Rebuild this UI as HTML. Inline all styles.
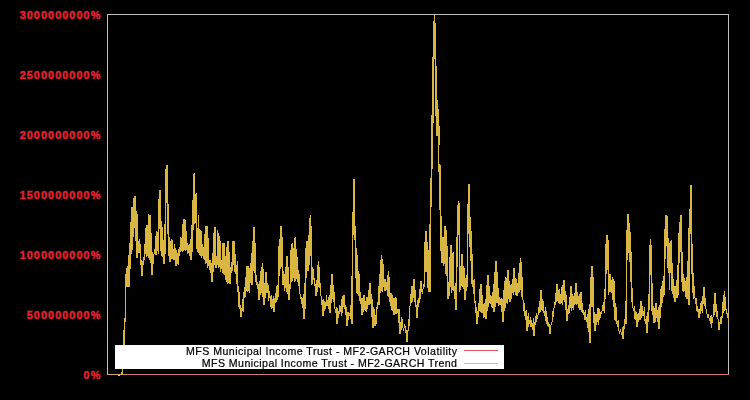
<!DOCTYPE html>
<html><head><meta charset="utf-8"><title>MF2-GARCH</title>
<style>
html,body{margin:0;padding:0;background:#000;}
body{width:750px;height:400px;overflow:hidden;position:relative;font-family:"Liberation Sans",sans-serif;}
svg{position:absolute;left:0;top:0;display:block;}
.yl text{font-family:"Liberation Sans",sans-serif;font-weight:bold;font-size:10.8px;letter-spacing:1.1px;fill:#e8212f;stroke:#e8212f;stroke-width:0.45px;}
.lg text{font-family:"Liberation Sans",sans-serif;font-size:10.6px;letter-spacing:0.47px;fill:#000;stroke:#000;stroke-width:0.22px;}
</style></head><body>
<svg width="750" height="400" viewBox="0 0 750 400">
<rect x="0" y="0" width="750" height="400" fill="#000"/>
<g shape-rendering="crispEdges">
<rect x="107" y="14" width="622" height="1" fill="#bebebe"/>
<rect x="107" y="14" width="1" height="361" fill="#bebebe"/>
<rect x="728" y="14" width="1" height="361" fill="#bebebe"/>
<rect x="107" y="374" width="15" height="1" fill="#d0a870"/>
<rect x="122" y="374" width="607" height="1" fill="#d07880"/>
<path d="M121 372h1v3h-1zM122 366h1v9h-1zM123 330h1v38h-1zM124 318h1v30h-1zM125 274h1v48h-1zM126 268h1v19h-1zM127 266h1v21h-1zM128 255h1v32h-1zM129 243h1v44h-1zM130 222h1v47h-1zM131 207h1v47h-1zM132 207h1v43h-1zM133 198h1v39h-1zM134 196h1v32h-1zM135 196h1v45h-1zM136 211h1v47h-1zM137 214h1v44h-1zM138 241h1v12h-1zM139 239h1v14h-1zM140 244h1v21h-1zM141 260h1v16h-1zM142 261h1v15h-1zM143 257h1v8h-1zM144 244h1v16h-1zM145 228h1v26h-1zM146 225h1v32h-1zM147 225h1v31h-1zM148 214h1v44h-1zM149 215h1v45h-1zM150 215h1v48h-1zM151 233h1v42h-1zM152 252h1v23h-1zM153 254h1v10h-1zM154 249h1v5h-1zM155 236h1v19h-1zM156 231h1v24h-1zM157 232h1v19h-1zM158 199h1v55h-1zM159 190h1v39h-1zM160 190h1v61h-1zM161 221h1v35h-1zM162 227h1v30h-1zM163 240h1v24h-1zM164 224h1v40h-1zM165 169h1v85h-1zM166 165h1v38h-1zM167 165h1v69h-1zM168 204h1v52h-1zM169 237h1v25h-1zM170 241h1v21h-1zM171 239h1v20h-1zM172 240h1v19h-1zM173 249h1v11h-1zM174 244h1v16h-1zM175 248h1v18h-1zM176 250h1v16h-1zM177 253h1v11h-1zM178 249h1v16h-1zM179 247h1v9h-1zM180 237h1v15h-1zM181 238h1v13h-1zM182 224h1v28h-1zM183 219h1v32h-1zM184 219h1v31h-1zM185 220h1v31h-1zM186 231h1v19h-1zM187 243h1v11h-1zM188 245h1v8h-1zM189 244h1v12h-1zM190 239h1v21h-1zM191 225h1v35h-1zM192 200h1v52h-1zM193 174h1v56h-1zM194 173h1v51h-1zM195 194h1v29h-1zM196 193h1v56h-1zM197 228h1v24h-1zM198 215h1v38h-1zM199 229h1v26h-1zM200 230h1v26h-1zM201 231h1v27h-1zM202 244h1v12h-1zM203 247h1v12h-1zM204 234h1v26h-1zM205 226h1v38h-1zM206 226h1v37h-1zM207 226h1v42h-1zM208 238h1v28h-1zM209 260h1v10h-1zM210 260h1v13h-1zM211 263h1v19h-1zM212 253h1v29h-1zM213 233h1v39h-1zM214 227h1v38h-1zM215 227h1v41h-1zM216 256h1v12h-1zM217 230h1v35h-1zM218 233h1v35h-1zM219 236h1v31h-1zM220 241h1v31h-1zM221 260h1v9h-1zM222 243h1v30h-1zM223 243h1v31h-1zM224 243h1v32h-1zM225 256h1v24h-1zM226 247h1v35h-1zM227 241h1v43h-1zM228 241h1v42h-1zM229 252h1v32h-1zM230 267h1v17h-1zM231 262h1v11h-1zM232 241h1v30h-1zM233 241h1v24h-1zM234 241h1v31h-1zM235 254h1v20h-1zM236 265h1v19h-1zM237 261h1v31h-1zM238 286h1v21h-1zM239 292h1v17h-1zM240 305h1v12h-1zM241 308h1v9h-1zM242 299h1v12h-1zM243 292h1v20h-1zM244 287h1v11h-1zM245 277h1v20h-1zM246 266h1v25h-1zM247 266h1v26h-1zM248 266h1v25h-1zM249 268h1v25h-1zM250 263h1v20h-1zM251 253h1v32h-1zM252 241h1v44h-1zM253 227h1v44h-1zM254 227h1v46h-1zM255 243h1v39h-1zM256 275h1v10h-1zM257 282h1v7h-1zM258 284h1v16h-1zM259 281h1v19h-1zM260 271h1v24h-1zM261 267h1v26h-1zM262 263h1v34h-1zM263 269h1v36h-1zM264 283h1v22h-1zM265 272h1v26h-1zM266 272h1v21h-1zM267 283h1v10h-1zM268 285h1v16h-1zM269 291h1v7h-1zM270 296h1v11h-1zM271 295h1v14h-1zM272 299h1v9h-1zM273 296h1v16h-1zM274 298h1v14h-1zM275 293h1v10h-1zM276 286h1v16h-1zM277 285h1v15h-1zM278 246h1v51h-1zM279 239h1v37h-1zM280 226h1v43h-1zM281 226h1v41h-1zM282 237h1v48h-1zM283 271h1v14h-1zM284 274h1v17h-1zM285 267h1v21h-1zM286 256h1v36h-1zM287 256h1v38h-1zM288 267h1v33h-1zM289 284h1v16h-1zM290 250h1v39h-1zM291 244h1v38h-1zM292 243h1v38h-1zM293 248h1v30h-1zM294 238h1v44h-1zM295 237h1v44h-1zM296 249h1v30h-1zM297 257h1v25h-1zM298 270h1v16h-1zM299 274h1v20h-1zM300 294h1v5h-1zM301 297h1v7h-1zM302 298h1v10h-1zM303 294h1v25h-1zM304 283h1v36h-1zM305 248h1v61h-1zM306 241h1v37h-1zM307 241h1v30h-1zM308 235h1v36h-1zM309 218h1v47h-1zM310 215h1v41h-1zM311 226h1v59h-1zM312 267h1v17h-1zM313 269h1v11h-1zM314 278h1v8h-1zM315 284h1v12h-1zM316 280h1v16h-1zM317 265h1v27h-1zM318 261h1v26h-1zM319 267h1v21h-1zM320 283h1v13h-1zM321 296h1v9h-1zM322 300h1v16h-1zM323 299h1v17h-1zM324 301h1v10h-1zM325 302h1v7h-1zM326 295h1v11h-1zM327 300h1v6h-1zM328 297h1v12h-1zM329 295h1v18h-1zM330 285h1v28h-1zM331 274h1v29h-1zM332 274h1v25h-1zM333 285h1v17h-1zM334 292h1v17h-1zM335 309h1v4h-1zM336 307h1v17h-1zM337 308h1v16h-1zM338 311h1v7h-1zM339 305h1v9h-1zM340 306h1v6h-1zM341 299h1v17h-1zM342 296h1v17h-1zM343 295h1v12h-1zM344 295h1v14h-1zM345 305h1v10h-1zM346 307h1v19h-1zM347 312h1v14h-1zM348 312h1v8h-1zM349 313h1v3h-1zM350 305h1v14h-1zM351 276h1v48h-1zM352 212h1v112h-1zM353 179h1v56h-1zM354 179h1v61h-1zM355 226h1v52h-1zM356 248h1v45h-1zM357 255h1v39h-1zM358 271h1v25h-1zM359 274h1v27h-1zM360 292h1v12h-1zM361 298h1v17h-1zM362 298h1v17h-1zM363 295h1v17h-1zM364 295h1v15h-1zM365 301h1v10h-1zM366 297h1v15h-1zM367 297h1v12h-1zM368 290h1v15h-1zM369 283h1v22h-1zM370 283h1v21h-1zM371 294h1v23h-1zM372 299h1v29h-1zM373 307h1v21h-1zM374 309h1v17h-1zM375 315h1v11h-1zM376 307h1v17h-1zM377 302h1v7h-1zM378 286h1v19h-1zM379 274h1v31h-1zM380 260h1v33h-1zM381 255h1v36h-1zM382 259h1v33h-1zM383 264h1v23h-1zM384 279h1v12h-1zM385 279h1v12h-1zM386 282h1v8h-1zM387 275h1v21h-1zM388 271h1v26h-1zM389 277h1v25h-1zM390 293h1v13h-1zM391 293h1v17h-1zM392 295h1v16h-1zM393 298h1v17h-1zM394 298h1v17h-1zM395 297h1v17h-1zM396 298h1v16h-1zM397 309h1v4h-1zM398 309h1v14h-1zM399 309h1v25h-1zM400 322h1v12h-1zM401 317h1v13h-1zM402 319h1v9h-1zM403 328h1v3h-1zM404 324h1v4h-1zM405 326h1v7h-1zM406 330h1v12h-1zM407 330h1v12h-1zM408 319h1v12h-1zM409 306h1v20h-1zM410 294h1v12h-1zM411 286h1v17h-1zM412 286h1v16h-1zM413 279h1v19h-1zM414 279h1v23h-1zM415 290h1v17h-1zM416 305h1v13h-1zM417 300h1v18h-1zM418 298h1v9h-1zM419 289h1v14h-1zM420 281h1v18h-1zM421 281h1v11h-1zM422 289h1v5h-1zM423 284h1v5h-1zM424 242h1v45h-1zM425 231h1v41h-1zM426 231h1v41h-1zM427 242h1v46h-1zM428 250h1v42h-1zM429 224h1v68h-1zM430 178h1v114h-1zM431 115h1v92h-1zM432 57h1v112h-1zM433 21h1v102h-1zM434 15h1v44h-1zM435 23h1v93h-1zM436 66h1v70h-1zM437 100h1v36h-1zM438 109h1v63h-1zM439 126h1v19h-1zM439 164h1v46h-1zM440 165h1v86h-1zM441 216h1v47h-1zM442 237h1v26h-1zM443 237h1v29h-1zM444 226h1v38h-1zM445 226h1v48h-1zM446 230h1v46h-1zM447 246h1v53h-1zM448 282h1v17h-1zM449 257h1v39h-1zM450 245h1v42h-1zM451 245h1v48h-1zM452 253h1v37h-1zM453 252h1v39h-1zM454 286h1v13h-1zM455 283h1v27h-1zM456 237h1v73h-1zM457 205h1v62h-1zM458 201h1v34h-1zM459 203h1v89h-1zM460 266h1v24h-1zM461 254h1v32h-1zM462 254h1v33h-1zM463 266h1v23h-1zM464 268h1v32h-1zM465 278h1v22h-1zM466 275h1v16h-1zM467 204h1v83h-1zM468 184h1v50h-1zM469 184h1v63h-1zM470 217h1v44h-1zM471 231h1v53h-1zM472 254h1v33h-1zM473 280h1v14h-1zM474 279h1v24h-1zM475 301h1v12h-1zM476 307h1v17h-1zM477 311h1v13h-1zM478 303h1v14h-1zM479 289h1v22h-1zM480 284h1v28h-1zM481 284h1v29h-1zM482 295h1v18h-1zM483 304h1v14h-1zM484 303h1v14h-1zM485 299h1v20h-1zM486 285h1v34h-1zM487 275h1v36h-1zM488 275h1v32h-1zM489 286h1v17h-1zM490 295h1v9h-1zM491 296h1v11h-1zM492 292h1v16h-1zM493 284h1v28h-1zM494 272h1v40h-1zM495 261h1v46h-1zM496 261h1v42h-1zM497 272h1v31h-1zM498 288h1v18h-1zM499 297h1v8h-1zM500 299h1v6h-1zM501 298h1v14h-1zM502 299h1v23h-1zM503 290h1v32h-1zM504 281h1v30h-1zM505 277h1v31h-1zM506 278h1v25h-1zM507 270h1v34h-1zM508 270h1v29h-1zM509 281h1v21h-1zM510 285h1v17h-1zM511 284h1v15h-1zM512 279h1v14h-1zM513 268h1v27h-1zM514 268h1v24h-1zM515 278h1v17h-1zM516 279h1v17h-1zM517 283h1v13h-1zM518 273h1v20h-1zM519 263h1v29h-1zM520 258h1v32h-1zM521 262h1v35h-1zM522 277h1v23h-1zM523 300h1v11h-1zM524 303h1v13h-1zM525 311h1v9h-1zM526 310h1v21h-1zM527 316h1v15h-1zM528 313h1v14h-1zM529 320h1v4h-1zM530 317h1v10h-1zM531 320h1v7h-1zM532 323h1v7h-1zM533 318h1v18h-1zM534 322h1v14h-1zM535 316h1v9h-1zM536 313h1v9h-1zM537 315h1v4h-1zM538 307h1v8h-1zM539 301h1v12h-1zM540 290h1v22h-1zM541 290h1v20h-1zM542 299h1v12h-1zM543 301h1v12h-1zM544 311h1v5h-1zM545 307h1v14h-1zM546 311h1v13h-1zM547 317h1v9h-1zM548 322h1v5h-1zM549 324h1v10h-1zM550 325h1v9h-1zM551 322h1v3h-1zM552 311h1v11h-1zM553 308h1v9h-1zM554 302h1v6h-1zM555 293h1v12h-1zM556 284h1v18h-1zM557 284h1v17h-1zM558 290h1v13h-1zM559 289h1v15h-1zM560 294h1v10h-1zM561 287h1v16h-1zM562 285h1v20h-1zM563 280h1v20h-1zM564 280h1v22h-1zM565 291h1v19h-1zM566 295h1v26h-1zM567 309h1v12h-1zM568 305h1v9h-1zM569 297h1v16h-1zM570 286h1v22h-1zM571 286h1v25h-1zM572 294h1v14h-1zM573 296h1v14h-1zM574 293h1v12h-1zM575 283h1v21h-1zM576 283h1v22h-1zM577 292h1v12h-1zM578 296h1v12h-1zM579 294h1v16h-1zM580 292h1v18h-1zM581 292h1v20h-1zM582 303h1v10h-1zM583 310h1v5h-1zM584 312h1v8h-1zM585 310h1v10h-1zM586 317h1v5h-1zM587 314h1v14h-1zM588 309h1v23h-1zM589 304h1v39h-1zM590 277h1v66h-1zM591 266h1v41h-1zM592 266h1v41h-1zM593 277h1v46h-1zM594 312h1v19h-1zM595 314h1v17h-1zM596 314h1v11h-1zM597 308h1v14h-1zM598 308h1v17h-1zM599 309h1v11h-1zM600 312h1v6h-1zM601 311h1v3h-1zM602 305h1v6h-1zM603 302h1v9h-1zM604 289h1v24h-1zM605 244h1v55h-1zM606 235h1v39h-1zM607 235h1v35h-1zM608 240h1v55h-1zM609 274h1v18h-1zM610 274h1v18h-1zM611 280h1v13h-1zM612 277h1v23h-1zM613 279h1v28h-1zM614 281h1v39h-1zM615 303h1v18h-1zM616 307h1v17h-1zM617 321h1v6h-1zM618 320h1v11h-1zM619 331h1v3h-1zM620 329h1v3h-1zM621 332h1v3h-1zM622 327h1v12h-1zM623 326h1v13h-1zM624 319h1v10h-1zM625 301h1v23h-1zM626 230h1v94h-1zM627 214h1v46h-1zM628 214h1v39h-1zM629 223h1v39h-1zM630 232h1v50h-1zM631 252h1v50h-1zM632 288h1v20h-1zM633 308h1v3h-1zM634 306h1v13h-1zM635 311h1v9h-1zM636 312h1v15h-1zM637 314h1v13h-1zM638 313h1v9h-1zM639 309h1v11h-1zM640 301h1v19h-1zM641 301h1v17h-1zM642 306h1v10h-1zM643 311h1v5h-1zM644 307h1v14h-1zM645 319h1v5h-1zM646 316h1v17h-1zM647 312h1v21h-1zM648 294h1v28h-1zM649 245h1v65h-1zM650 239h1v36h-1zM651 245h1v66h-1zM652 283h1v32h-1zM653 306h1v17h-1zM654 308h1v15h-1zM655 303h1v19h-1zM656 303h1v15h-1zM657 310h1v12h-1zM658 307h1v22h-1zM659 305h1v24h-1zM660 289h1v29h-1zM661 286h1v21h-1zM662 281h1v22h-1zM663 276h1v21h-1zM664 229h1v66h-1zM665 215h1v44h-1zM666 215h1v31h-1zM667 216h1v52h-1zM668 238h1v35h-1zM669 243h1v47h-1zM670 241h1v32h-1zM671 240h1v51h-1zM672 263h1v31h-1zM673 279h1v19h-1zM674 286h1v16h-1zM675 286h1v16h-1zM676 280h1v18h-1zM677 265h1v33h-1zM678 233h1v62h-1zM679 222h1v41h-1zM680 215h1v37h-1zM681 215h1v67h-1zM682 252h1v39h-1zM683 274h1v18h-1zM684 278h1v13h-1zM685 281h1v16h-1zM686 277h1v22h-1zM687 261h1v38h-1zM688 228h1v77h-1zM689 209h1v96h-1zM690 185h1v49h-1zM691 185h1v89h-1zM692 244h1v49h-1zM693 273h1v26h-1zM694 286h1v12h-1zM695 298h1v6h-1zM696 298h1v13h-1zM697 306h1v6h-1zM698 309h1v9h-1zM699 309h1v9h-1zM700 303h1v11h-1zM701 301h1v10h-1zM702 296h1v17h-1zM703 287h1v17h-1zM704 287h1v19h-1zM705 298h1v11h-1zM706 309h1v5h-1zM707 314h1v4h-1zM708 314h1v4h-1zM709 318h1v3h-1zM710 316h1v8h-1zM711 315h1v13h-1zM712 317h1v6h-1zM713 304h1v13h-1zM714 293h1v22h-1zM715 293h1v19h-1zM716 304h1v13h-1zM717 311h1v8h-1zM718 319h1v11h-1zM719 322h1v8h-1zM720 317h1v7h-1zM721 316h1v8h-1zM722 302h1v16h-1zM723 295h1v18h-1zM724 291h1v20h-1zM725 297h1v13h-1zM726 309h1v5h-1zM727 313h1v5h-1zM728 314h1v8h-1z" fill="#d9b541"/>
<rect x="118" y="375" width="2" height="1" fill="#f4f000"/>
<rect x="115" y="345" width="389" height="24" fill="#fff"/>
<rect x="464" y="350" width="34" height="1" fill="#e0545c"/>
<rect x="464" y="363" width="34" height="1" fill="#d8c068"/>
</g>
<g class="yl"><text x="101.39999999999999" y="18.9" text-anchor="end">3000000000%</text><text x="101.39999999999999" y="78.9" text-anchor="end">2500000000%</text><text x="101.39999999999999" y="138.9" text-anchor="end">2000000000%</text><text x="101.39999999999999" y="198.9" text-anchor="end">1500000000%</text><text x="101.39999999999999" y="258.9" text-anchor="end">1000000000%</text><text x="101.39999999999999" y="318.9" text-anchor="end">500000000%</text><text x="101.39999999999999" y="378.9" text-anchor="end">0%</text></g>
<g class="lg" style="filter:grayscale(1)">
<text x="457.47" y="354.6" text-anchor="end">MFS Municipal Income Trust - MF2-GARCH Volatility</text>
<text x="457.43" y="366.6" text-anchor="end" style="letter-spacing:0.43px">MFS Municipal Income Trust - MF2-GARCH Trend</text>
</g>
</svg>
</body></html>
